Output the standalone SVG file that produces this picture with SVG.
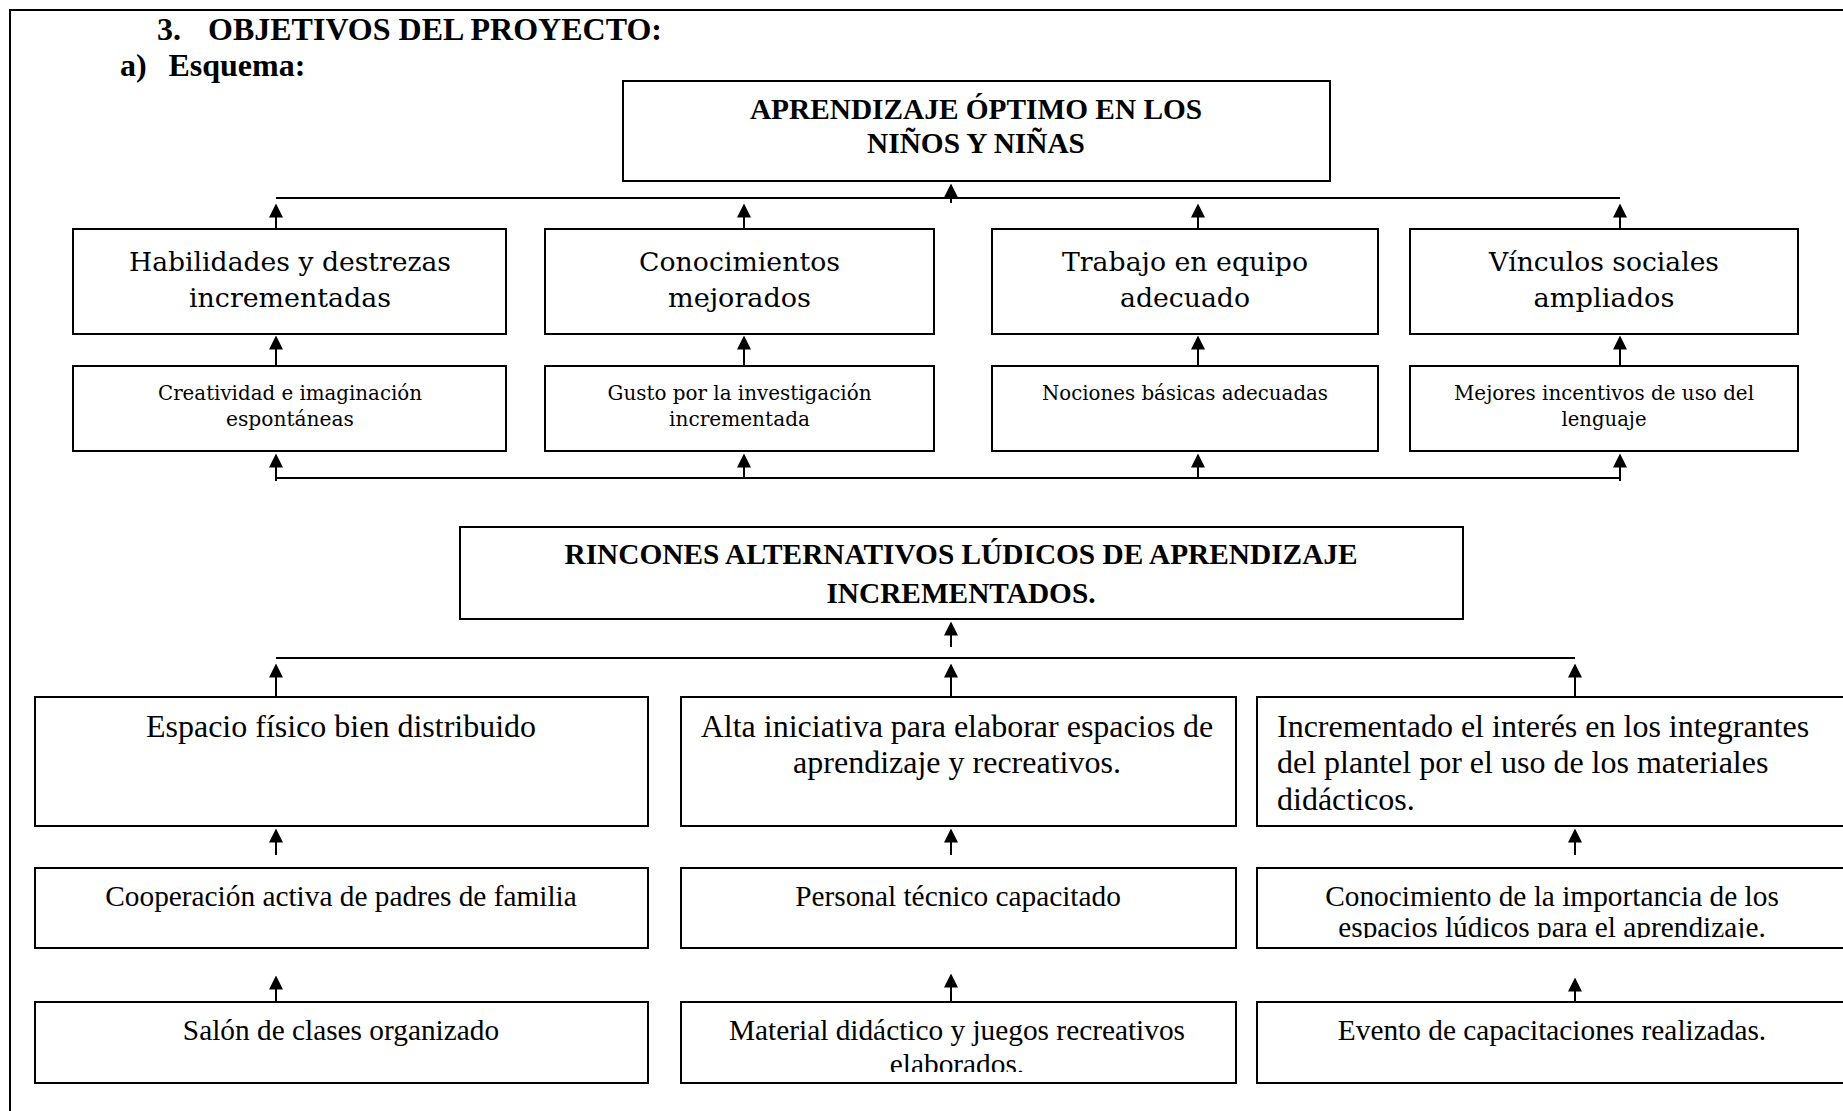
<svg xmlns="http://www.w3.org/2000/svg" width="1843" height="1111" viewBox="0 0 1843 1111">
<style>
.box{fill:#fff;stroke:#000;stroke-width:2}
.ln{fill:none;stroke:#000;stroke-width:2}
.ar{fill:none;stroke:#000;stroke-width:2;marker-end:url(#ah)}
.tb{font-family:"Liberation Serif","Times New Roman",serif;font-weight:bold;fill:#000}
.h{font-size:32px}
.b29{font-size:29.33px;text-anchor:middle}
.t32{font-family:"Liberation Serif","Times New Roman",serif;font-size:32px;fill:#000}
.t29{font-family:"Liberation Serif","Times New Roman",serif;font-size:29.33px;fill:#000;text-anchor:middle}
.c27{font-family:"DejaVu Serif",serif;font-size:26.7px;fill:#000;text-anchor:middle}
.c20{font-family:"DejaVu Serif",serif;font-size:20px;fill:#000;text-anchor:middle}
.m{text-anchor:middle}
</style>
<defs>
<marker id="ah" markerUnits="userSpaceOnUse" markerWidth="14" markerHeight="14" viewBox="0 0 14 14" refX="0.5" refY="7" orient="auto"><path d="M0,0L14,7L0,14z" fill="#000"/></marker>
<clipPath id="clipG5"><rect x="1257" y="860" width="600" height="78"/></clipPath>
<clipPath id="clipF6"><rect x="681" y="995" width="560" height="77"/></clipPath>
</defs>
<rect x="0" y="0" width="1843" height="1111" fill="#fff"/>
<path class="ln" d="M10,1111V10H1843"/>

<g id="header">
<text class="tb h" x="157" y="40">3.</text>
<text class="tb h" x="208" y="40">OBJETIVOS DEL PROYECTO:</text>
<text class="tb h" x="120" y="76">a)</text>
<text class="tb h" x="168.4" y="76">Esquema:</text>
</g>

<g id="connectors">
<path class="ln" d="M276,198H1620"/>
<path class="ln" d="M276,478H1620"/>
<path class="ln" d="M276,658H1575"/>
<path class="ar" d="M951,203V197"/>
<path class="ar" d="M276,229V217"/>
<path class="ar" d="M744,229V217"/>
<path class="ar" d="M1198,229V217"/>
<path class="ar" d="M1620,229V217"/>
<path class="ar" d="M276,366V349"/>
<path class="ar" d="M744,366V349"/>
<path class="ar" d="M1198,366V349"/>
<path class="ar" d="M1620,366V349"/>
<path class="ar" d="M276,481V467"/>
<path class="ar" d="M744,478V467"/>
<path class="ar" d="M1198,478V467"/>
<path class="ar" d="M1620,481V467"/>
<path class="ar" d="M951,647V635"/>
<path class="ar" d="M276,697V677"/>
<path class="ar" d="M951,697V677"/>
<path class="ar" d="M1575,697V677"/>
<path class="ar" d="M276,855V842"/>
<path class="ar" d="M951,855V842"/>
<path class="ar" d="M1575,855V842"/>
<path class="ar" d="M276,1002V989"/>
<path class="ar" d="M951,1002V987"/>
<path class="ar" d="M1575,1002V991"/>
</g>

<g id="n-aprendizaje">
<rect class="box" x="623" y="81" width="707" height="100"/>
<text class="tb b29" x="976" y="119">APRENDIZAJE ÓPTIMO EN LOS</text>
<text class="tb b29" x="976" y="153">NIÑOS Y NIÑAS</text>
</g>

<g id="n-habilidades">
<rect class="box" x="73" y="229" width="433" height="105"/>
<text class="c27" x="290" y="271" textLength="322" lengthAdjust="spacingAndGlyphs">Habilidades y destrezas</text>
<text class="c27" x="290" y="307" textLength="202" lengthAdjust="spacingAndGlyphs">incrementadas</text>
</g>
<g id="n-conocimientos">
<rect class="box" x="545" y="229" width="389" height="105"/>
<text class="c27" x="739.5" y="271" textLength="201" lengthAdjust="spacingAndGlyphs">Conocimientos</text>
<text class="c27" x="739.5" y="307" textLength="143" lengthAdjust="spacingAndGlyphs">mejorados</text>
</g>
<g id="n-trabajo">
<rect class="box" x="992" y="229" width="386" height="105"/>
<text class="c27" x="1185" y="271" textLength="246" lengthAdjust="spacingAndGlyphs">Trabajo en equipo</text>
<text class="c27" x="1185" y="307" textLength="130" lengthAdjust="spacingAndGlyphs">adecuado</text>
</g>
<g id="n-vinculos">
<rect class="box" x="1410" y="229" width="388" height="105"/>
<text class="c27" x="1604" y="271" textLength="230" lengthAdjust="spacingAndGlyphs">Vínculos sociales</text>
<text class="c27" x="1604" y="307" textLength="141" lengthAdjust="spacingAndGlyphs">ampliados</text>
</g>

<g id="n-creatividad">
<rect class="box" x="73" y="366" width="433" height="85"/>
<text class="c20" x="290" y="400" textLength="264" lengthAdjust="spacingAndGlyphs">Creatividad e imaginación</text>
<text class="c20" x="290" y="426" textLength="128" lengthAdjust="spacingAndGlyphs">espontáneas</text>
</g>
<g id="n-gusto">
<rect class="box" x="545" y="366" width="389" height="85"/>
<text class="c20" x="739.5" y="400" textLength="264" lengthAdjust="spacingAndGlyphs">Gusto por la investigación</text>
<text class="c20" x="739.5" y="426" textLength="141" lengthAdjust="spacingAndGlyphs">incrementada</text>
</g>
<g id="n-nociones">
<rect class="box" x="992" y="366" width="386" height="85"/>
<text class="c20" x="1185" y="400" textLength="286" lengthAdjust="spacingAndGlyphs">Nociones básicas adecuadas</text>
</g>
<g id="n-incentivos">
<rect class="box" x="1410" y="366" width="388" height="85"/>
<text class="c20" x="1604" y="400" textLength="300" lengthAdjust="spacingAndGlyphs">Mejores incentivos de uso del</text>
<text class="c20" x="1604" y="426" textLength="85" lengthAdjust="spacingAndGlyphs">lenguaje</text>
</g>

<g id="n-rincones">
<rect class="box" x="460" y="527" width="1003" height="92"/>
<text class="tb b29" x="961" y="564">RINCONES ALTERNATIVOS LÚDICOS DE APRENDIZAJE</text>
<text class="tb b29" x="961" y="603">INCREMENTADOS.</text>
</g>

<g id="n-espacio">
<rect class="box" x="35" y="697" width="613" height="129"/>
<text class="t32 m" x="341" y="737">Espacio físico bien distribuido</text>
</g>
<g id="n-iniciativa">
<rect class="box" x="681" y="697" width="555" height="129"/>
<text class="t32 m" x="957" y="737">Alta iniciativa para elaborar espacios de</text>
<text class="t32 m" x="957" y="773">aprendizaje y recreativos.</text>
</g>
<g id="n-interes">
<rect class="box" x="1257" y="697" width="600" height="129"/>
<text class="t32" x="1277" y="737">Incrementado el interés en los integrantes</text>
<text class="t32" x="1277" y="773">del plantel por el uso de los materiales</text>
<text class="t32" x="1277" y="810">didácticos.</text>
</g>

<g id="n-cooperacion">
<rect class="box" x="35" y="868" width="613" height="80"/>
<text class="t29" x="341" y="906">Cooperación activa de padres de familia</text>
</g>
<g id="n-personal">
<rect class="box" x="681" y="868" width="555" height="80"/>
<text class="t29" x="958" y="906">Personal técnico capacitado</text>
</g>
<g id="n-conocimiento">
<rect class="box" x="1257" y="868" width="600" height="80"/>
<text class="t29" x="1552" y="906">Conocimiento de la importancia de los</text>
<text class="t29" x="1552" y="937" clip-path="url(#clipG5)">espacios lúdicos para el aprendizaje.</text>
</g>

<g id="n-salon">
<rect class="box" x="35" y="1002" width="613" height="81"/>
<text class="t29" x="341" y="1040">Salón de clases organizado</text>
</g>
<g id="n-material">
<rect class="box" x="681" y="1002" width="555" height="81"/>
<text class="t29" x="957" y="1040">Material didáctico y juegos recreativos</text>
<text class="t29" x="957" y="1074" clip-path="url(#clipF6)">elaborados.</text>
</g>
<g id="n-evento">
<rect class="box" x="1257" y="1002" width="600" height="81"/>
<text class="t29" x="1552" y="1040">Evento de capacitaciones realizadas.</text>
</g>
</svg>
